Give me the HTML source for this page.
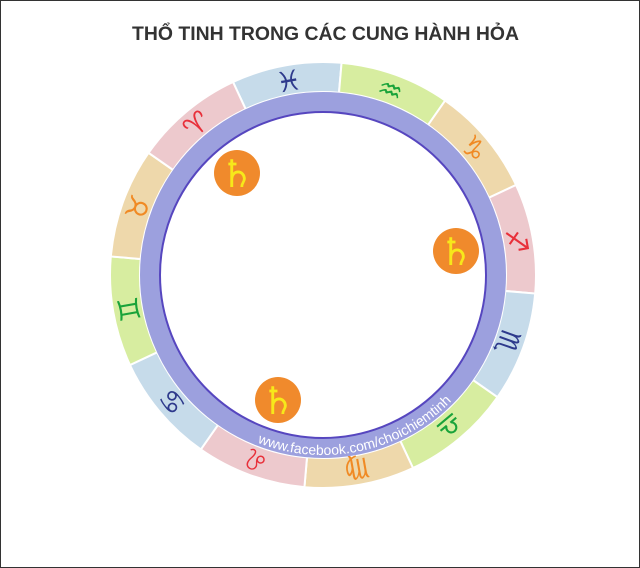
<!DOCTYPE html>
<html><head><meta charset="utf-8"><style>
html,body{margin:0;padding:0;background:#fff}
svg{display:block}
</style></head><body>
<svg width="640" height="568" viewBox="0 0 640 568" xmlns="http://www.w3.org/2000/svg">
<rect x="0.5" y="0.5" width="639" height="567" fill="#fff" stroke="#333" stroke-width="1"/>
<text x="325.5" y="40" text-anchor="middle" font-family="Liberation Sans, sans-serif" font-weight="bold" font-size="19" fill="#333" textLength="387" lengthAdjust="spacingAndGlyphs">THỔ TINH TRONG CÁC CUNG HÀNH HỎA</text>
<defs>
<path id="sec" d="M233,82 A213,213 0 0 1 341.6,62.8 L338.95,92.7 A183,183 0 0 0 245.7,109.1 Z" stroke="#fff" stroke-width="2"/>
<path id="arc" d="M255.6,441.9 A180,180 0 0 0 478.9,365"/>
</defs>
<g>
<use href="#sec" fill="#c6dbea" transform="rotate(0 323 275)"/>
<use href="#sec" fill="#d7eda0" transform="rotate(30 323 275)"/>
<use href="#sec" fill="#eed8ab" transform="rotate(60 323 275)"/>
<use href="#sec" fill="#edc9cd" transform="rotate(90 323 275)"/>
<use href="#sec" fill="#c6dbea" transform="rotate(120 323 275)"/>
<use href="#sec" fill="#d7eda0" transform="rotate(150 323 275)"/>
<use href="#sec" fill="#eed8ab" transform="rotate(180 323 275)"/>
<use href="#sec" fill="#edc9cd" transform="rotate(210 323 275)"/>
<use href="#sec" fill="#c6dbea" transform="rotate(240 323 275)"/>
<use href="#sec" fill="#d7eda0" transform="rotate(270 323 275)"/>
<use href="#sec" fill="#eed8ab" transform="rotate(300 323 275)"/>
<use href="#sec" fill="#edc9cd" transform="rotate(330 323 275)"/>
</g>
<g font-family="DejaVu Sans, sans-serif" font-size="28" text-anchor="middle">
<text x="323" y="88" fill="#2e3a8c" transform="rotate(-10 323 275)">♓&#xFE0E;</text>
<text x="323" y="88" fill="#1aa33a" transform="rotate(20 323 275)">♒&#xFE0E;</text>
<text x="323" y="88" fill="#f08a24" transform="rotate(50 323 275)">♑&#xFE0E;</text>
<text x="323" y="88" fill="#e8303a" transform="rotate(80 323 275)">♐&#xFE0E;</text>
<text x="323" y="88" fill="#2e3a8c" transform="rotate(110 323 275)">♏&#xFE0E;</text>
<text x="323" y="88" fill="#1aa33a" transform="rotate(140 323 275)">♎&#xFE0E;</text>
<text x="323" y="88" fill="#f08a24" transform="rotate(170 323 275)">♍&#xFE0E;</text>
<text x="323" y="88" fill="#e8303a" transform="rotate(200 323 275)">♌&#xFE0E;</text>
<text x="323" y="88" fill="#2e3a8c" transform="rotate(230 323 275)">♋&#xFE0E;</text>
<text x="323" y="88" fill="#1aa33a" transform="rotate(260 323 275)">♊&#xFE0E;</text>
<text x="323" y="88" fill="#f08a24" transform="rotate(290 323 275)">♉&#xFE0E;</text>
<text x="323" y="88" fill="#e8303a" transform="rotate(320 323 275)">♈&#xFE0E;</text>
</g>
<circle cx="323" cy="275" r="173" fill="none" stroke="#9ca0de" stroke-width="20"/>
<circle cx="323" cy="275" r="163" fill="#fff" stroke="#5646bf" stroke-width="2"/>
<text font-family="Liberation Sans, sans-serif" font-size="14" fill="#fff"><textPath href="#arc" startOffset="2">www.facebook.com/choichiemtinh</textPath></text>
<g font-family="DejaVu Sans, sans-serif" font-size="38" text-anchor="middle" fill="#f7e81a">
<circle cx="237" cy="173" r="23" fill="#f08a2c"/>
<text x="237" y="187">♄&#xFE0E;</text>
<circle cx="456" cy="251" r="23" fill="#f08a2c"/>
<text x="456" y="265">♄&#xFE0E;</text>
<circle cx="278" cy="400" r="23" fill="#f08a2c"/>
<text x="278" y="414">♄&#xFE0E;</text>
</g>
</svg>
</body></html>
